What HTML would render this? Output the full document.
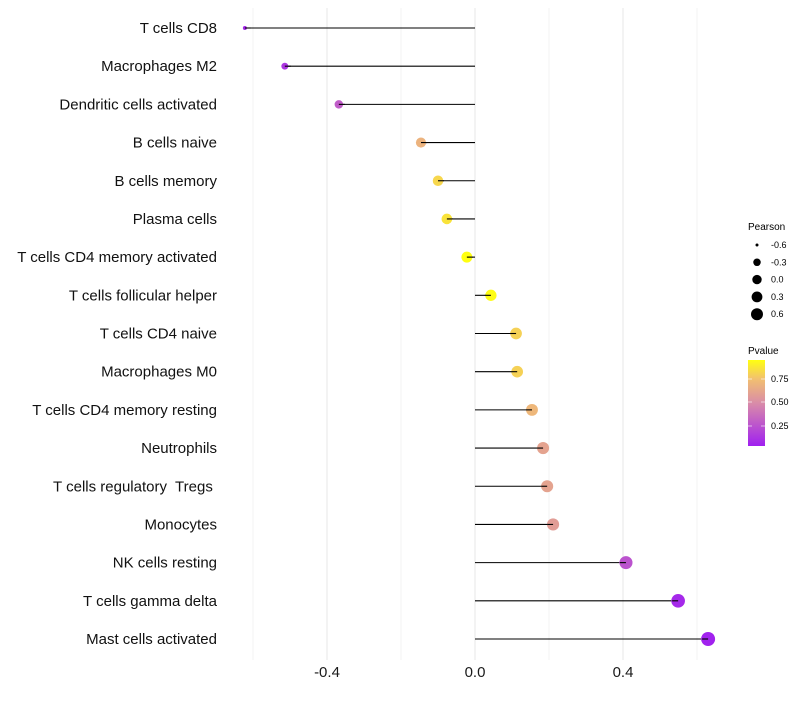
<!DOCTYPE html>
<html><head><meta charset="utf-8"><style>
body{margin:0;background:#fff;font-family:"Liberation Sans",sans-serif}
text{white-space:pre}
</style></head><body>
<svg id="chart" width="800" height="700" xmlns="http://www.w3.org/2000/svg" font-family="Liberation Sans, sans-serif">
<defs><linearGradient id="pg" x1="0" y1="1" x2="0" y2="0">
<stop offset="0" stop-color="#a020f0"/><stop offset="0.5" stop-color="#d98ca8"/><stop offset="0.78" stop-color="#f2c070"/><stop offset="1" stop-color="#ffff10"/></linearGradient></defs>
<g id="grid"></g><g id="marks"></g><g id="labels"></g>
<g font-size="9">
<text x="748" y="230" font-size="10">Pearson</text>
<g id="sizeleg"></g>
</g>
<g font-size="9">
<text x="748" y="354" font-size="10">Pvalue</text>
<rect x="748" y="360" width="17" height="86" fill="url(#pg)"/>
<line x1="748" y1="379" x2="752" y2="379" stroke="#fff" stroke-opacity="0.6"/><line x1="761" y1="379" x2="765" y2="379" stroke="#fff" stroke-opacity="0.6"/>
<line x1="748" y1="402" x2="752" y2="402" stroke="#fff" stroke-opacity="0.6"/><line x1="761" y1="402" x2="765" y2="402" stroke="#fff" stroke-opacity="0.6"/>
<line x1="748" y1="426" x2="752" y2="426" stroke="#fff" stroke-opacity="0.6"/><line x1="761" y1="426" x2="765" y2="426" stroke="#fff" stroke-opacity="0.6"/>
<text x="771" y="382">0.75</text><text x="771" y="405">0.50</text><text x="771" y="429">0.25</text>
</g>
</svg>
<script>
const categories=["T cells CD8","Macrophages M2","Dendritic cells activated","B cells naive","B cells memory","Plasma cells","T cells CD4 memory activated","T cells follicular helper","T cells CD4 naive","Macrophages M0","T cells CD4 memory resting","Neutrophils","T cells regulatory  Tregs ","Monocytes","NK cells resting","T cells gamma delta","Mast cells activated"];
const pearson=[-0.622,-0.514,-0.368,-0.146,-0.1,-0.076,-0.022,0.043,0.111,0.114,0.154,0.184,0.195,0.211,0.408,0.549,0.63];
const pvalue=[0.06,0.12,0.28,0.68,0.82,0.86,0.96,0.94,0.8,0.8,0.7,0.6,0.6,0.57,0.24,0.06,0.03];
const xTicks=[-0.4,0,0.4];
const xMinor=[-0.6,-0.2,0.2,0.6];
const sizeLegend=[-0.6,-0.3,0,0.3,0.6];
const NS="http://www.w3.org/2000/svg";
const xs=v=>475+v*370;
const ys=i=>28+i*(639-28)/16;
const pMin=Math.min(...pearson),pMax=Math.max(...pearson);
const rs=v=>{const t=Math.max(0,(v-pMin)/(pMax-pMin));return 2+5*Math.sqrt(t);};
const rl=v=>{const t=Math.max(0,(v+0.6)/1.2);return 1.5+4.5*Math.sqrt(t);};
const stops=[[0,[160,32,240]],[0.5,[217,140,168]],[0.78,[242,192,112]],[1,[255,255,16]]];
function col(p){p=Math.min(1,Math.max(0,(p-0.02)/0.93));for(let k=1;k<stops.length;k++){if(p<=stops[k][0]){const[a,c1]=stops[k-1],[b,c2]=stops[k];const t=(p-a)/(b-a);return`rgb(${c1.map((c,j)=>Math.round(c+(c2[j]-c)*t)).join(',')})`;}}return'rgb(255,255,16)';}
function mk(t,a,parent){const e=document.createElementNS(NS,t);for(const k in a)e.setAttribute(k,a[k]);parent.appendChild(e);return e;}
const grid=document.getElementById('grid'),marks=document.getElementById('marks'),labels=document.getElementById('labels');
xMinor.forEach(v=>{const l=mk('line',{x1:xs(v),x2:xs(v),y1:8,y2:660,stroke:'#f3f3f3','stroke-width':1},grid);

});
xTicks.forEach(v=>{const l=mk('line',{x1:xs(v),x2:xs(v),y1:8,y2:660,stroke:'#ebebeb','stroke-width':1.2},grid);


const t=mk('text',{x:xs(v),y:677,'text-anchor':'middle','font-size':15,fill:'#1a1a1a'},labels);t.textContent=v===0?'0.0':v.toFixed(1);

});
categories.forEach((c,i)=>{const y=ys(i);
const t=mk('text',{x:217,y:y+5,'text-anchor':'end','font-size':15,fill:'#111'},labels);t.textContent=c;


const l=mk('line',{x1:xs(0),x2:xs(pearson[i]),y1:y,y2:y,stroke:'#000','stroke-width':1.1},marks);


const d=mk('circle',{cx:xs(pearson[i]),cy:y,r:rs(pearson[i]),fill:col(pvalue[i])},marks);


const l2=mk('line',{x1:xs(pearson[i])+(pearson[i]<0?0:-6),x2:xs(pearson[i])+(pearson[i]<0?6:0),y1:y,y2:y,stroke:'#000','stroke-width':1.1},marks);

});
const sl=document.getElementById('sizeleg');
sizeLegend.forEach((v,i)=>{const y=245+i*17.3;
const d=mk('circle',{cx:757,cy:y,r:rl(v),fill:'#000'},sl);


const t=mk('text',{x:771,y:y+3,'font-size':9},sl);t.textContent=v.toFixed(1);

});
</script>
</body></html>
